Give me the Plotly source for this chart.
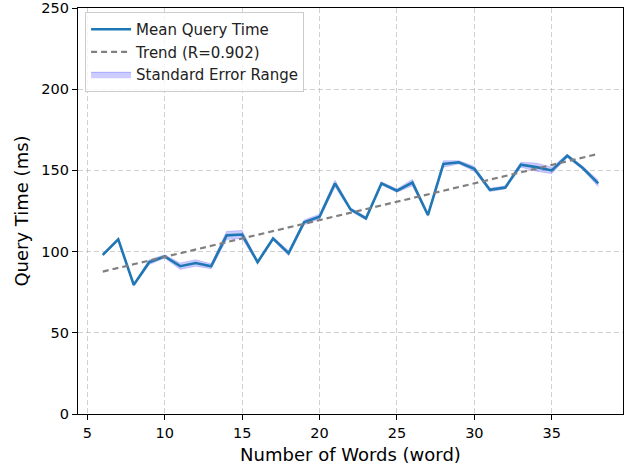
import numpy as np
import plotly.graph_objects as go

words = list(range(6, 39))
mean_time = [98, 107.5, 79.5, 93.5, 97, 91, 93, 91, 110, 110.5, 93.5, 108, 99, 118, 121.5,
             142, 126, 120.5, 142, 137.5, 142.5, 122.5, 154, 155, 151, 138, 139.5, 153.5, 152,
             150, 159, 151.5, 142]
std_err = [0.8, 0.8, 0.8, 1.5, 1.0, 2.0, 2.0, 1.5, 2.5, 2.5, 0.8, 1.0, 1.5, 1.5, 1.5,
           2.0, 1.0, 1.0, 1.0, 1.0, 2.0, 0.8, 2.0, 1.0, 1.5, 1.0, 1.0, 1.5, 2.5,
           2.0, 1.0, 1.0, 2.0]
trend_label = "Trend (R=0.902)"
x_ticks = [5, 10, 15, 20, 25, 30, 35]
y_ticks = [0, 50, 100, 150, 200, 250]

x = np.array(words, dtype=float)
m = np.array(mean_time)
se = np.array(std_err)
slope, intercept = np.polyfit(x, m, 1)
trend = slope * x + intercept

fig = go.Figure()
fig.add_trace(go.Scatter(x=x, y=m + se, mode="lines", line=dict(width=0.8, color="rgba(0,0,255,0.2)"),
                         showlegend=False, hoverinfo="skip"))
fig.add_trace(go.Scatter(x=x, y=m - se, mode="lines", line=dict(width=0.8, color="rgba(0,0,255,0.2)"),
                         fill="tonexty", fillcolor="rgba(0,0,255,0.2)",
                         showlegend=False, hoverinfo="skip"))
fig.add_trace(go.Scatter(x=x, y=m, mode="lines", line=dict(color="#1f77b4", width=2.6),
                         name="Mean Query Time"))
fig.add_trace(go.Scatter(x=x, y=trend, mode="lines",
                         line=dict(color="#808080", width=2.2, dash="6px,4px"),
                         name=trend_label))
# legend entry for the band
fig.add_trace(go.Scatter(x=[None], y=[None], mode="lines", fill="toself",
                         fillcolor="rgba(0,0,255,0.2)", line=dict(color="rgba(0,0,255,0.25)", width=1),
                         name="Standard Error Range"))

axis_common = dict(showline=True, linecolor="black", linewidth=1.2, mirror=True,
                   ticks="outside", ticklen=5, tickcolor="black", tickwidth=1.1,
                   showgrid=True, gridcolor="rgba(176,176,176,0.6)", griddash="5px,3px", gridwidth=1,
                   zeroline=False, tickfont=dict(size=14.5, color="black"),
                   automargin=False, ticklabeloverflow="allow")

fig.update_xaxes(range=[4.4, 39.6], tickvals=x_ticks, **axis_common,
                 title=dict(text="Number of Words (word)", font=dict(size=18, color="black"), standoff=8))
fig.update_yaxes(range=[0, 250], tickvals=y_ticks, **axis_common,
                 title=dict(text="Query Time (ms)", font=dict(size=18, color="black"), standoff=8))

fig.update_layout(
    width=629, height=467,
    margin=dict(l=78, r=6, t=8, b=53),
    plot_bgcolor="white", paper_bgcolor="white",
    font=dict(family="DejaVu Sans", color="black"),
    legend=dict(x=0.013, y=0.99, xanchor="left", yanchor="top", traceorder="normal",
                bgcolor="rgba(255,255,255,0.8)", bordercolor="#cccccc", borderwidth=1,
                font=dict(size=15, color="#222222"), itemwidth=40),
    showlegend=True,
)

fig.write_html("out.html", config={"displayModeBar": False},
               post_script="document.body.style.margin='0';document.body.style.overflow='hidden';")
